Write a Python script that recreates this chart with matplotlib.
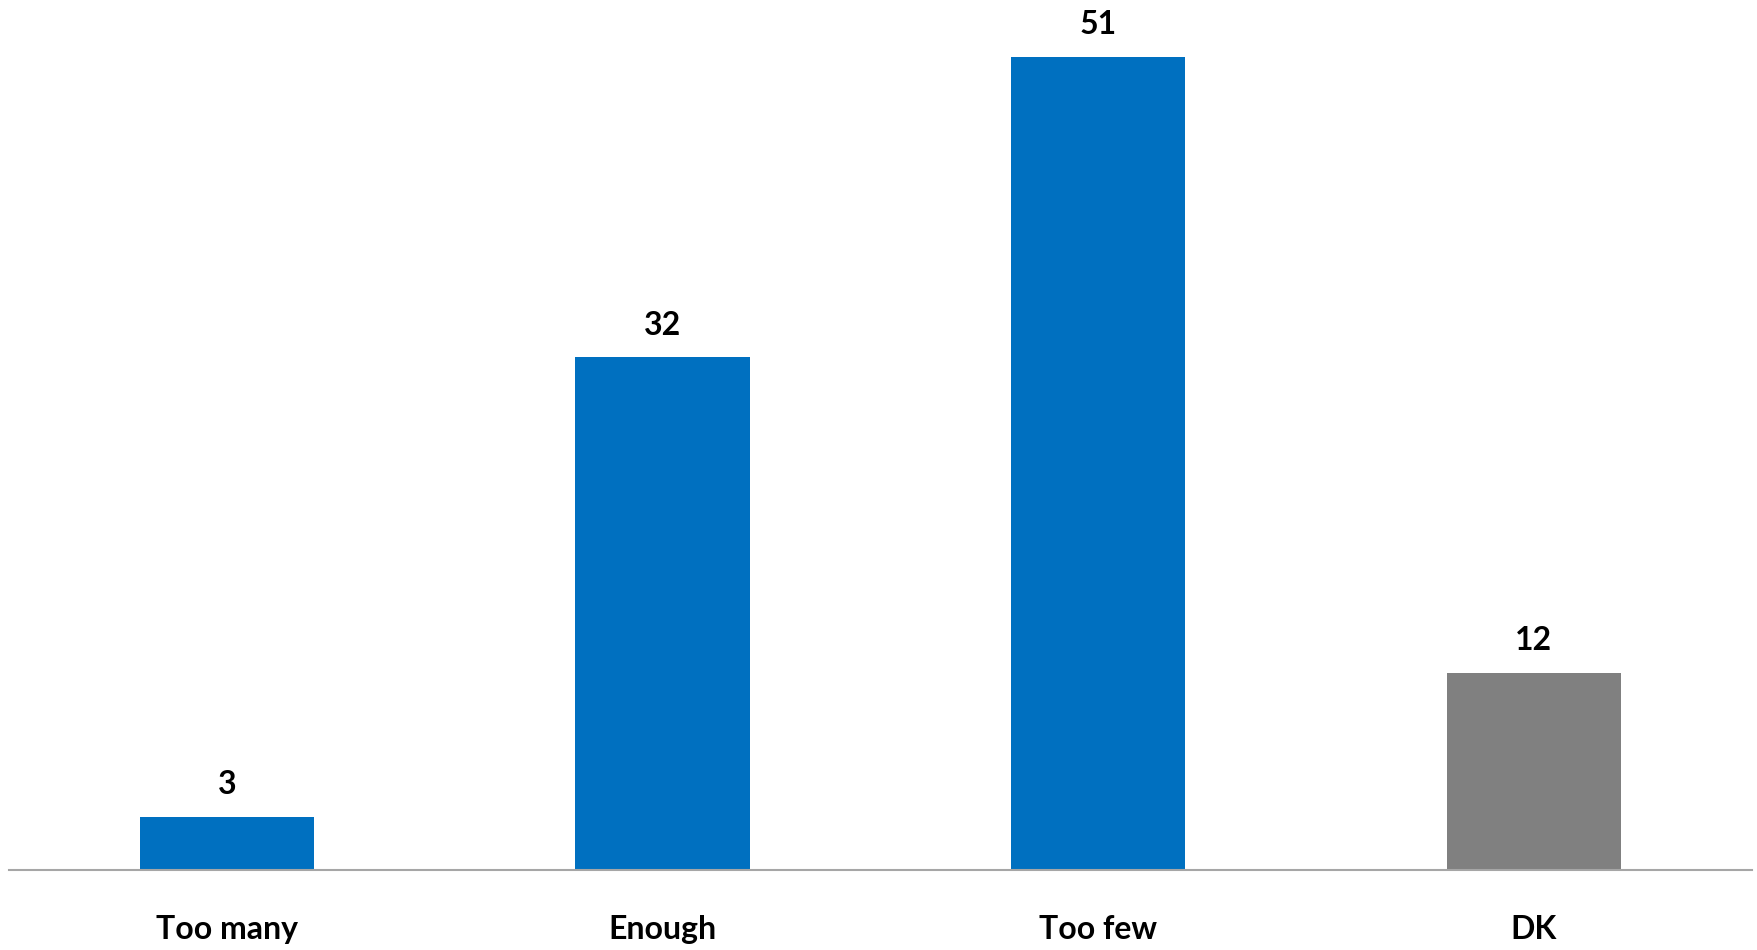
import matplotlib
matplotlib.use("Agg")
import matplotlib.pyplot as plt

categories = ["Too many", "Enough", "Too few", "DK"]
values = [3.3, 32.0, 50.8, 12.3]          # bar heights
labels = ["3", "32", "51", "12"]          # displayed data labels
colors = ["#0070C0", "#0070C0", "#0070C0", "#808080"]

plt.rcParams['font.family'] = ['Lato', 'DejaVu Sans']

fig = plt.figure(figsize=(17.58, 9.5), dpi=100)
ax = fig.add_axes([9/1758, (950-869.5)/950, 1742.7/1758, 869.5/950])

x = list(range(len(categories)))
bars = ax.bar(x, values, width=0.4, color=colors)
ax.set_xlim(-0.5, 3.5)
ax.set_ylim(0, 54.34)

for b, lab in zip(bars, labels):
    ax.annotate(lab, (b.get_x() + b.get_width()/2, b.get_height()),
                xytext=(0, 16), textcoords="offset points",
                ha="center", va="baseline", fontsize=23, fontweight="bold",
                color="#000000")

ax.set_xticks(x)
ax.set_xticklabels(categories, fontsize=23, fontweight="bold")
ax.tick_params(axis="x", length=0, pad=33)
ax.set_yticks([])
for s in ["top", "right", "left"]:
    ax.spines[s].set_visible(False)
ax.spines["bottom"].set_color("#A6A6A6")
ax.spines["bottom"].set_linewidth(1.5)

fig.savefig("out.png", dpi=100)
